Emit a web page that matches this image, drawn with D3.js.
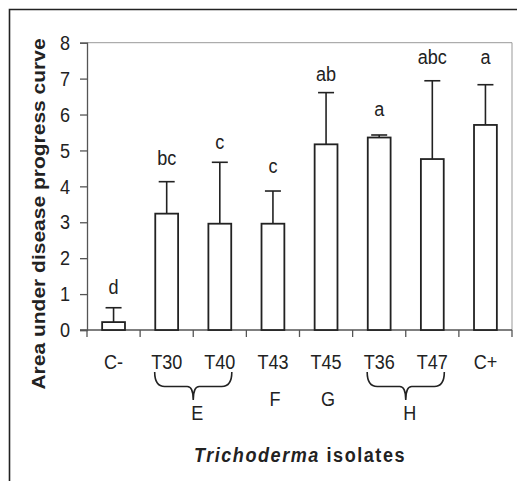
<!DOCTYPE html>
<html><head><meta charset="utf-8">
<script src="https://cdn.jsdelivr.net/npm/d3@7"></script>
<style>
html,body{margin:0;padding:0;background:#fff;}
svg{display:block;}
text{font-family:"Liberation Sans",Arial,sans-serif;fill:#222;}
</style></head>
<body>
<svg id="chart" width="517" height="481"></svg>
<script>
const categories = ["C-","T30","T40","T43","T45","T36","T47","C+"];
const means      = [0.22, 3.24, 2.96, 2.96, 5.17, 5.36, 4.76, 5.71];
const errorTops  = [0.62, 4.13, 4.67, 3.87, 6.61, 5.43, 6.94, 6.83];
const letters    = ["d","bc","c","c","ab","a","abc","a"];
const letterPos  = [1.0, 4.6, 5.04, 4.37, 6.94, 5.96, 7.41, 7.41];
const yTicks     = [0,1,2,3,4,5,6,7,8];
const groups = [
  {label:"E", from:"T30", to:"T40", brace:true},
  {label:"F", from:"T43", to:"T43", brace:false},
  {label:"G", from:"T45", to:"T45", brace:false},
  {label:"H", from:"T36", to:"T47", brace:true}
];

const FS = 21, SX = 0.86;
const svg = d3.select("#chart");
const L = 87, R = 512, T = 42.7, B = 330;

function label(px, py, str) {
  svg.append("text").attr("transform", `translate(${px},${py}) scale(${SX},1)`)
    .attr("text-anchor","middle").style("font-size", FS+"px").text(str);
}

// outer frame (clipped by the window)
svg.append("path").attr("d", `M9.5,${481+5} V9.5 H${517+5}`)
  .attr("fill","none").attr("stroke","#222").attr("stroke-width",1.6);

const x = d3.scaleBand().domain(categories).range([L, R]).padding(0);
const y = d3.scaleLinear().domain([0, 8]).range([B, T]);
const bw = x.bandwidth() * 0.43;
const cx = d => x(d) + x.bandwidth()/2;

// plot area border (top/right)
svg.append("path").attr("d", `M${L},${T} H${R} V${B}`)
  .attr("fill","none").attr("stroke","#999").attr("stroke-width",1);

// y axis
const yAxis = svg.append("g").attr("transform", `translate(${L},0)`)
  .call(d3.axisLeft(y).tickValues(yTicks).tickSize(7).tickPadding(10).tickFormat(d3.format("d")));
yAxis.select(".domain").attr("stroke","#555").attr("stroke-width",1.3);
yAxis.selectAll(".tick line").attr("stroke","#555").attr("stroke-width",1.3);
yAxis.selectAll("text").style("font-size", FS+"px").attr("fill","#222")
  .attr("x", -17/SX).attr("transform", `scale(${SX},1)`);

// x axis
const xAxis = svg.append("g").attr("transform", `translate(0,${B})`)
  .call(d3.axisBottom(x).tickSize(0).tickPadding(24));
xAxis.select(".domain").remove();
xAxis.selectAll("text").style("font-size", FS+"px").attr("fill","#222")
  .attr("transform", `scale(${SX},1)`);
svg.append("line").attr("x1", L-7).attr("x2", R).attr("y1", B).attr("y2", B)
  .attr("stroke","#555").attr("stroke-width",1.3);
const bounds = categories.map(c => x(c)).concat([R]);
svg.append("g").selectAll("line").data(bounds).join("line")
  .attr("x1", d=>d).attr("x2", d=>d).attr("y1", B).attr("y2", B+7)
  .attr("stroke","#555").attr("stroke-width",1.3);

// error bars
const eb = svg.append("g").attr("stroke","#222").attr("stroke-width",1.6);
categories.forEach((c,i) => {
  eb.append("line").attr("x1",cx(c)).attr("x2",cx(c)).attr("y1",y(means[i])).attr("y2",y(errorTops[i]));
  eb.append("line").attr("x1",cx(c)-8).attr("x2",cx(c)+8).attr("y1",y(errorTops[i])).attr("y2",y(errorTops[i]));
});

// bars
svg.append("g").selectAll("rect").data(categories).join("rect")
  .attr("x", d => cx(d) - bw/2).attr("width", bw)
  .attr("y", (d,i) => y(means[i])).attr("height", (d,i) => B - y(means[i]))
  .attr("fill","#fff").attr("stroke","#222").attr("stroke-width",1.8);

// letters
categories.forEach((c,i) => label(cx(c), y(letterPos[i]), letters[i]));

// group braces
groups.forEach(g => {
  const a = cx(g.from) - 12, b = cx(g.to) + 12, m = (cx(g.from) + cx(g.to))/2;
  if (g.brace) {
    const top = 372, mid = 386.5, tip = 400;
    const p = `M${a},${top} Q${a},${mid} ${a+10},${mid} L${m-6},${mid} Q${m},${mid} ${m},${tip}` +
              ` M${b},${top} Q${b},${mid} ${b-10},${mid} L${m+6},${mid} Q${m},${mid} ${m},${tip}`;
    svg.append("path").attr("d", p).attr("fill","none").attr("stroke","#222").attr("stroke-width",1.6);
    label(m+4, 420, g.label);
  } else {
    label(m+2, 406, g.label);
  }
});

// axis titles
svg.append("text").attr("transform", "translate(45,214) rotate(-90) scale(1,0.86)")
  .attr("text-anchor","middle").style("font-size","21px").style("font-weight","bold")
  .text("Area under disease progress curve");
const xt = svg.append("text").attr("transform", "translate(300,462) scale(0.86,1)")
  .attr("text-anchor","middle")
  .style("font-size","21px").style("font-weight","bold").style("letter-spacing","1.8px");
xt.append("tspan").style("font-style","italic").text("Trichoderma");
xt.append("tspan").text(" isolates");
</script>
</body></html>
